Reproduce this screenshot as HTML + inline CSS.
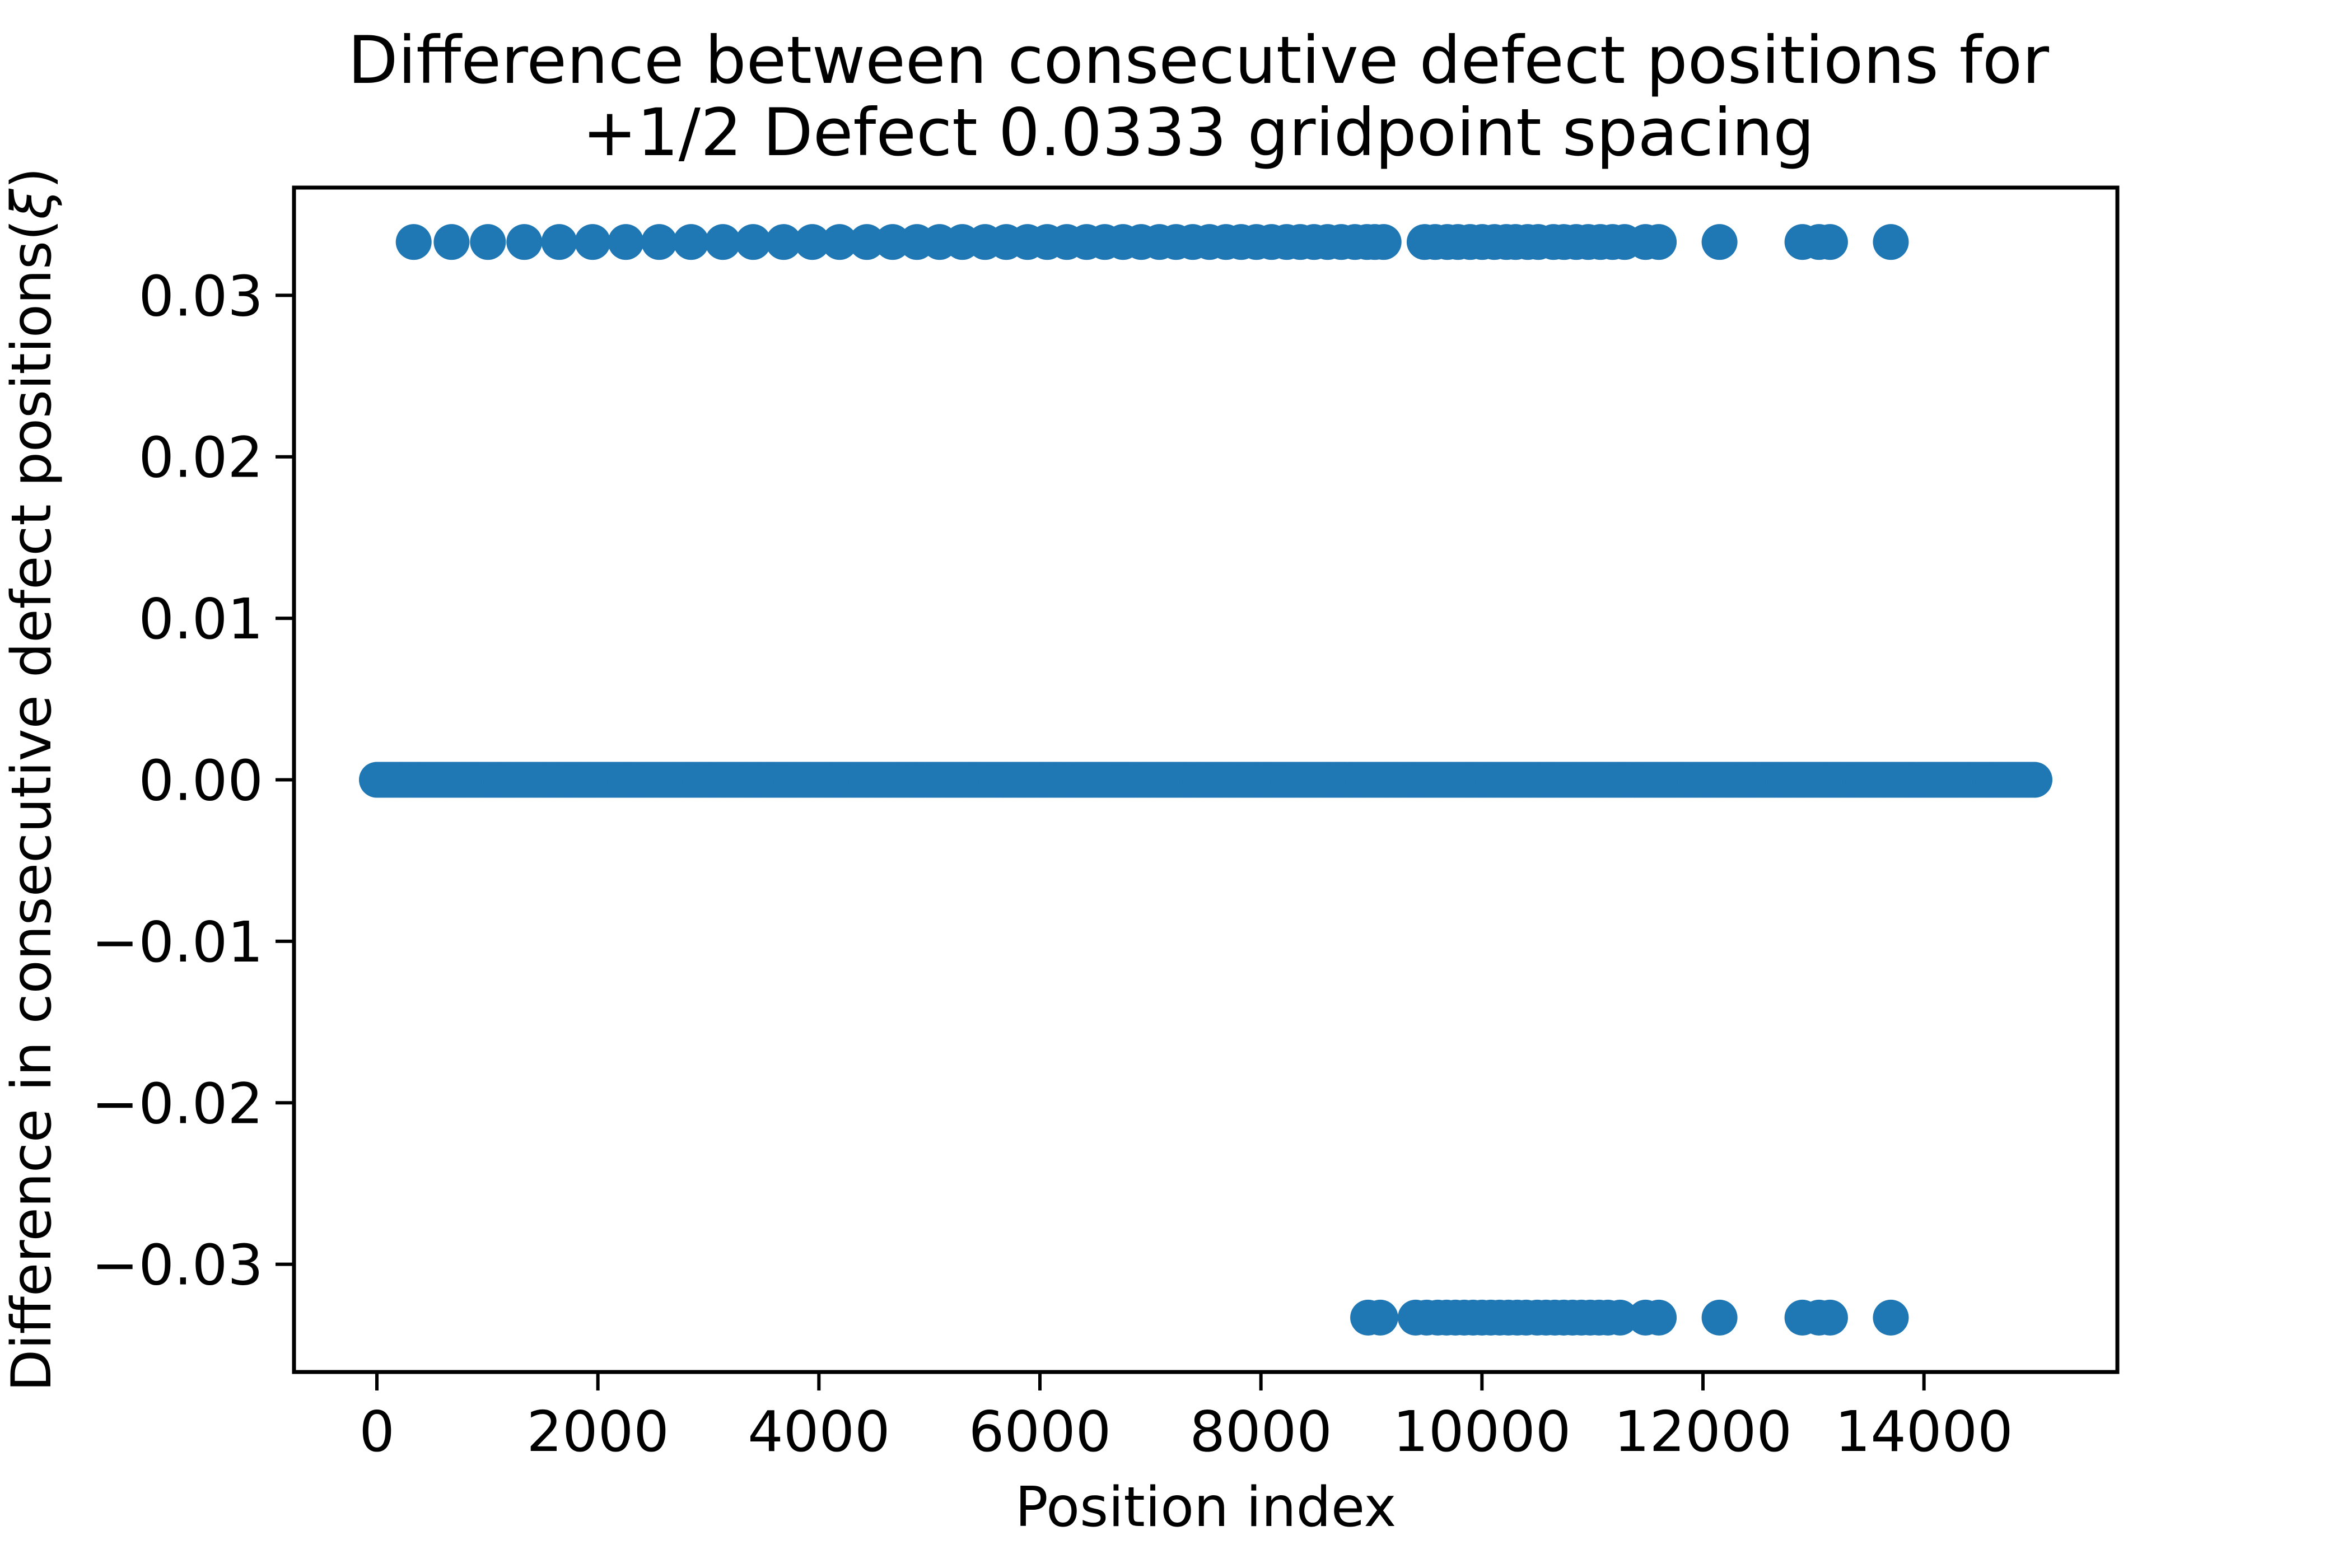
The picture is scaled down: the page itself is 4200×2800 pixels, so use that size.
<!DOCTYPE html>
<html><head><meta charset="utf-8"><style>
html,body{margin:0;padding:0;background:#fff;}
svg{display:block;font-family:"DejaVu Sans","Liberation Sans",sans-serif;}
</style></head><body>
<svg id="chart" width="4200" height="2800" viewBox="0 0 4200 2800" xmlns="http://www.w3.org/2000/svg">
<rect width="4200" height="2800" fill="#fff"/>
<g>
<text x="2140" y="148" font-size="116.5" text-anchor="middle">Difference between consecutive defect positions for</text>
<text x="2140" y="277" font-size="116.5" text-anchor="middle">+1/2 Defect 0.0333 gridpoint spacing</text>
</g>
<g id="marks"></g>
<g id="axes"></g>
<text x="2153" y="2725" font-size="98" text-anchor="middle">Position index</text>
<text transform="translate(90,1392) rotate(-90)" font-size="98" text-anchor="middle">Difference in consecutive defect positions(<tspan font-style="italic">ξ</tspan>)</text>
</svg>
<script>
const upperX = [333,676,1005,1334,1650,1952,2253,2555,2843,3131,3405,3680,3940,4187,4434,4667,4887,5092,5298,5504,5696,5888,6066,6244,6423,6587,6752,6916,7081,7232,7383,7534,7684,7821,7959,8096,8233,8356,8480,8603,8727,8850,8960,9030,9110,9481,9577,9687,9783,9893,10002,10112,10221,10304,10414,10510,10647,10743,10853,10962,11072,11182,11291,11480,11600,12150,12900,13050,13150,13700];
const lowerX = [8970,9080,9400,9500,9600,9680,9760,9840,9920,10000,10080,10160,10240,10320,10400,10500,10580,10660,10740,10820,10900,10980,11060,11140,11250,11480,11600,12150,12900,13050,13150,13700];
const stepValue = 0.0333;
const zeroStart = 0;
const zeroEnd = 15000;
const xTicks = [0,2000,4000,6000,8000,10000,12000,14000];
const yTicks = [-0.03,-0.02,-0.01,0,0.01,0.02,0.03];
const yTickLabels = ["\u22120.03","\u22120.02","\u22120.01","0.00","0.01","0.02","0.03"];

const NS="http://www.w3.org/2000/svg";
const L=525,R=3781,T=335,B=2450;
const xMin=-750,xMax=15750,yMin=-0.03667,yMax=0.03667;
function sx(v){return L+(v-xMin)/(xMax-xMin)*(R-L);}
function sy(v){return B-(v-yMin)/(yMax-yMin)*(B-T);}
const marks=document.getElementById('marks');
const axes=document.getElementById('axes');
function dot(x,y,name){
  const c=document.createElementNS(NS,'circle');
  c.setAttribute('cx',sx(x));c.setAttribute('cy',sy(y));c.setAttribute('r',32);c.setAttribute('fill','#1f77b4');
  
  
  marks.appendChild(c);
}
for(let v=zeroStart; v<=zeroEnd; v+=25){ dot(v,0,'zero-point'); }
upperX.forEach(v=>dot(v,stepValue,'upper-point'));
lowerX.forEach(v=>dot(v,-stepValue,'lower-point'));
function el(tag,attrs,name){
  const e=document.createElementNS(NS,tag);
  for(const k in attrs) e.setAttribute(k,attrs[k]);
  
  
  axes.appendChild(e); return e;
}
el('rect',{x:L,y:T,width:R-L,height:B-T,fill:'none',stroke:'#000','stroke-width':7},'axes-frame');
xTicks.forEach(v=>{
  el('line',{x1:sx(v),x2:sx(v),y1:B,y2:B+33,stroke:'#000','stroke-width':6},'x-tick');
  const t=el('text',{x:sx(v),y:2591,'font-size':100,'text-anchor':'middle'},'x-tick-label');
  t.textContent=String(v);
});
yTicks.forEach((v,i)=>{
  el('line',{x1:L-33,x2:L,y1:sy(v),y2:sy(v),stroke:'#000','stroke-width':6},'y-tick');
  const t=el('text',{x:L-55,y:sy(v)+36,'font-size':100,'text-anchor':'end'},'y-tick-label');
  t.textContent=yTickLabels[i];
});
</script>
</body></html>
